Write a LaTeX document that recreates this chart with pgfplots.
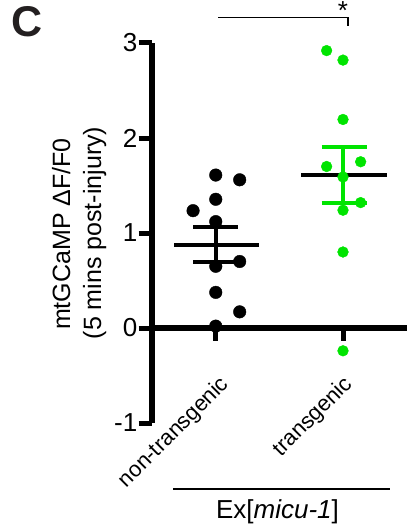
\documentclass[border=0pt]{standalone}
\usepackage{fontspec}
\setmainfont{Liberation Sans}
\usepackage{pgfplots}
\pgfplotsset{compat=1.18}
\definecolor{lgreen}{RGB}{0,228,0}
\definecolor{cblack}{RGB}{35,31,32}
\begin{document}
\begin{tikzpicture}
\useasboundingbox (0,0) rectangle (417pt,-529pt);
\begin{axis}[
  at={(152pt,-423pt)}, anchor=south west,
  scale only axis, width=255pt, height=380pt,
  xmin=-0.516, xmax=1.508, ymin=-1, ymax=3,
  axis x line=none, axis y line=left,
  y axis line style={line width=6.5pt, -},
  ytick={-1,0,1,2,3}, yticklabels={-1,0,1,2,3},
  ytick align=outside, major tick length=13.5pt,
  ytick style={line width=5pt, black},
  yticklabel style={font=\fontsize{26}{30}\selectfont, inner sep=1pt},
  clip=false,
]
% x axis line at y = 0 and category ticks
\addplot[black, line width=6.5pt] coordinates {(-0.516,0) (1.508,0)};
\addplot[black, line width=5pt] coordinates {(-0.01,0) (-0.01,-0.14)};
\addplot[black, line width=5pt] coordinates {(1,0) (1,-0.14)};
% non-transgenic
\addplot[only marks, mark=*, mark size=6.3pt, black] coordinates {
  (-0.01,1.61) (0.18,1.56) (-0.01,1.355) (-0.19,1.235) (-0.01,1.12)
  (0.18,0.70) (-0.01,0.65) (-0.01,0.375) (0.18,0.17) (-0.01,0.02)};
\addplot[black, line width=4pt] coordinates {(-0.01,0.70) (-0.01,1.06)};
\addplot[black, line width=4pt] coordinates {(-0.19,1.06) (0.17,1.06)};
\addplot[black, line width=4pt] coordinates {(-0.19,0.70) (0.17,0.70)};
\addplot[black, line width=4pt] coordinates {(-0.34,0.875) (0.33,0.875)};
% transgenic
\addplot[only marks, mark=*, mark size=5.4pt, lgreen] coordinates {
  (0.87,2.92) (1,2.82) (1,2.195) (1.14,1.75) (0.87,1.70) (1,1.59)
  (1.14,1.32) (1,1.24) (1,0.80) (1,-0.24)};
\addplot[lgreen, line width=4pt] coordinates {(1,1.32) (1,1.91)};
\addplot[lgreen, line width=4pt] coordinates {(0.83,1.91) (1.19,1.91)};
\addplot[lgreen, line width=4pt] coordinates {(0.83,1.32) (1.19,1.32)};
\addplot[black, line width=4pt] coordinates {(0.67,1.61) (1.35,1.61)};
% category labels
\node[rotate=45, anchor=east, inner sep=0pt, font=\fontsize{22}{26}\selectfont] at (axis cs:0.07,-0.56) {non-transgenic};
\node[rotate=45, anchor=east, inner sep=0pt, font=\fontsize{22}{26}\selectfont] at (axis cs:1.05,-0.56) {transgenic};
\end{axis}
% y label
\node[rotate=90, anchor=base, inner sep=0pt, font=\fontsize{25}{30}\selectfont] at (70pt,-234pt) {mtGCaMP ΔF/F0};
\node[rotate=90, anchor=base, inner sep=0pt, font=\fontsize{25}{30}\selectfont] at (101pt,-233pt) {(5 mins post-injury)};
% panel letter
\node[anchor=north west, inner sep=0pt, text=cblack, font=\fontsize{43}{48}\selectfont\bfseries] at (11pt,-6pt) {C};
% significance bracket
\draw[line width=1.8pt] (218pt,-17.5pt) -- (348pt,-17.5pt) -- (348pt,-26pt);
\node[anchor=north, inner sep=0pt, font=\fontsize{26}{30}\selectfont] at (343pt,-1pt) {*};
% Ex[micu-1] bracket
\draw[line width=1.8pt] (173pt,-489pt) -- (390pt,-489pt);
\node[anchor=base, inner sep=0pt, font=\fontsize{26}{30}\selectfont] at (277.5pt,-518pt) {Ex[\textit{micu-1}]};
\end{tikzpicture}
\end{document}
